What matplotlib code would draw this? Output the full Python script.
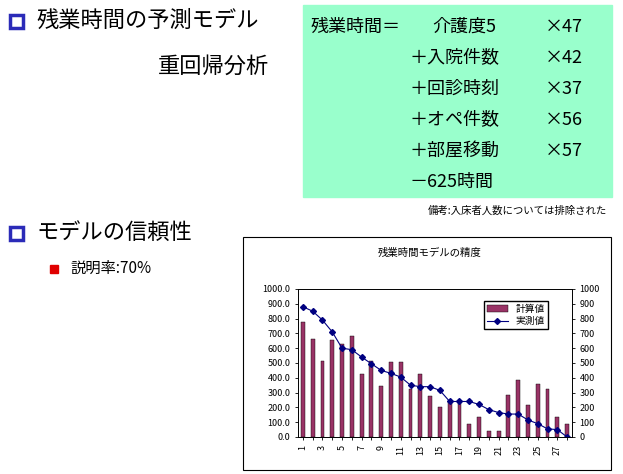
import numpy as np
import matplotlib.pyplot as plt
from matplotlib.patches import Rectangle

plt.rcParams['font.family'] = ['Noto Sans CJK JP', 'DejaVu Sans']

# chart data
days = list(range(1, 29))
calc = [775, 665, 515, 655, 630, 680, 425, 515, 345, 505, 505, 325, 425, 280,
        205, 240, 245, 85, 135, 40, 40, 285, 385, 215, 360, 325, 135, 85]
meas = [880, 850, 790, 710, 600, 590, 540, 495, 450, 430, 405, 350, 340, 340,
        315, 240, 240, 240, 220, 185, 165, 155, 155, 115, 90, 55, 50, 0]

W, H = 623, 474
fig = plt.figure(figsize=(W / 100, H / 100), dpi=100)


def px(x, y):
    return x / W, 1 - y / H


# left headings
for y, s in [(20, '残業時間の予測モデル'), (232, 'モデルの信頼性')]:
    fig.patches.append(Rectangle(px(10, y + 8), 13 / W, 13 / H, transform=fig.transFigure,
                                 fill=False, edgecolor='#2b2bb8', lw=2.5))
    fig.text(*px(36, y), s, fontsize=16, va='center')
fig.text(*px(158, 66), '重回帰分析', fontsize=16, va='center')
fig.patches.append(Rectangle(px(50, 273), 8 / W, 8 / H, transform=fig.transFigure,
                             color='#e00000'))
fig.text(*px(70, 268), '説明率:70%', fontsize=11, va='center')

# formula box
fig.patches.append(Rectangle(px(303, 197), 309 / W, 192 / H, transform=fig.transFigure,
                             color='#99ffcc'))
rows = [('残業時間＝', '介護度5', '×47'), ('', '＋入院件数', '×42'),
        ('', '＋回診時刻', '×37'), ('', '＋オペ件数', '×56'),
        ('', '＋部屋移動', '×57'), ('', '－625時間', '')]
for i, (a, b, c) in enumerate(rows):
    y = 27 + i * 31
    if a:
        fig.text(*px(311, y), a, fontsize=13, va='center')
    fig.text(*px(410 if i else 432, y), b, fontsize=13, va='center')
    fig.text(*px(545, y), c, fontsize=13, va='center')
fig.text(*px(607, 211), '備考:入床者人数については排除された', fontsize=7.5,
         va='center', ha='right')

# chart frame
fig.patches.append(Rectangle(px(243, 470), 368 / W, 233 / H, transform=fig.transFigure,
                             fill=False, edgecolor='black', lw=0.8))
fig.text(*px(430, 253), '残業時間モデルの精度', fontsize=7.5, va='center', ha='center')

ax = fig.add_axes([298 / W, 1 - 437 / H, 274 / W, 148 / H])
x = np.arange(len(days))
b = ax.bar(x, calc, width=0.4, color='#993366', edgecolor='black', lw=0.3, label='計算値')
ax.set_ylim(0, 1000)
ax.set_yticks(range(0, 1001, 100))
ax.set_yticklabels([f'{v:.1f}' for v in range(0, 1001, 100)], fontsize=6.5)
ax.set_xlim(-0.5, len(days) - 0.5)
ax.set_xticks(x)
ax.set_xticklabels([str(d) if d % 2 else '' for d in days], rotation=90, fontsize=6.5)
ax.tick_params(length=2, width=0.6)
ax2 = ax.twinx()
l, = ax2.plot(x, meas, color='#000080', marker='D', ms=3, lw=0.8, label='実測値')
ax2.set_ylim(0, 1000)
ax2.set_yticks(range(0, 1001, 100))
ax2.tick_params(labelsize=6.5, length=2, width=0.6)
for a in (ax, ax2):
    for sp in a.spines.values():
        sp.set_linewidth(0.6)
ax2.legend([b, l], ['計算値', '実測値'], loc='upper right', bbox_to_anchor=(0.93, 0.95),
           fontsize=7, fancybox=False, edgecolor='black', framealpha=1,
           handlelength=2.2, borderpad=0.3, labelspacing=0.2)

fig.savefig('out.png', dpi=100)
